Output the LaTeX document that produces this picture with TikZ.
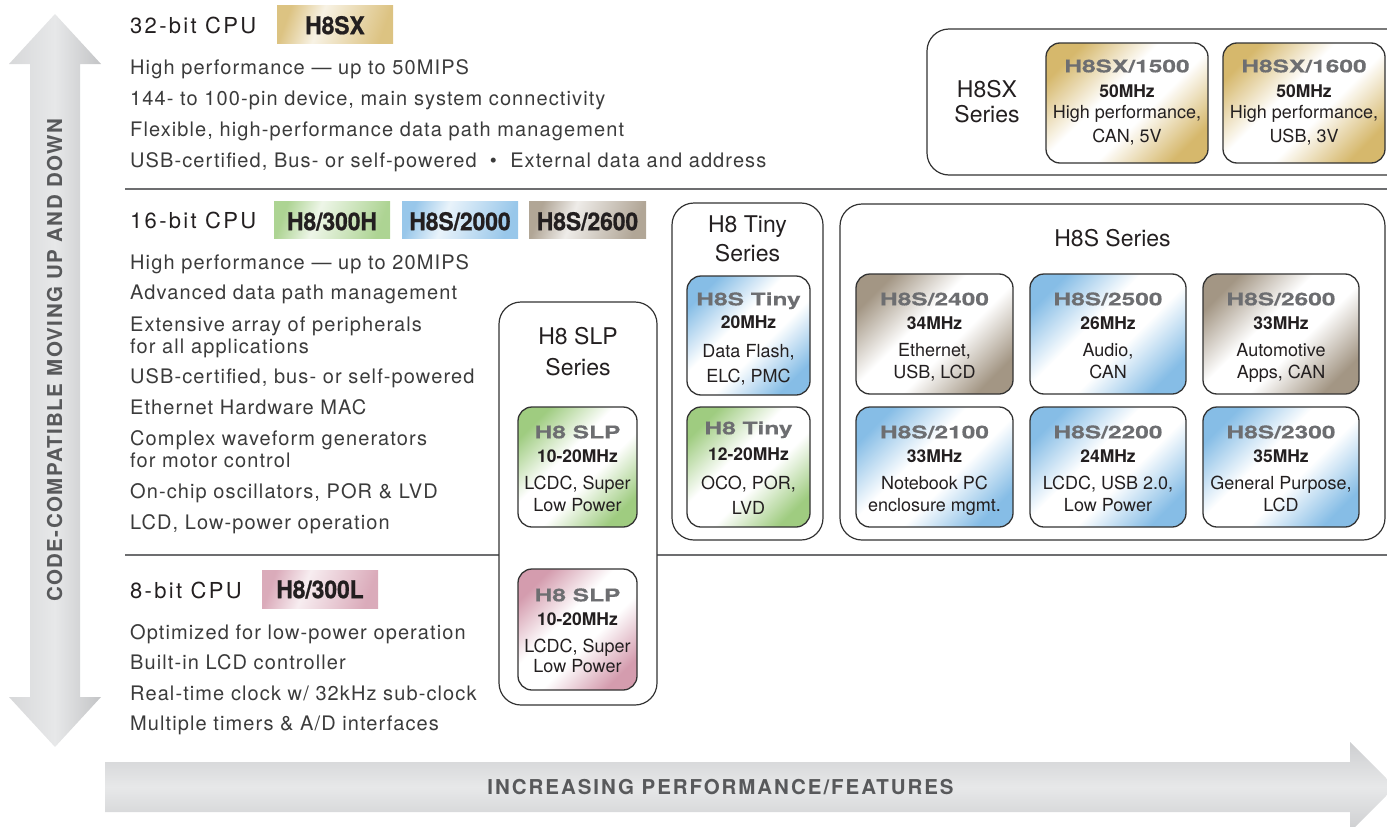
\documentclass[tikz,border=0pt]{standalone}
\usepackage{fontspec}
\setmainfont{TeX Gyre Heros}
\newfontfamily\bodyfont[LetterSpace=5.5]{TeX Gyre Heros}
\newfontfamily\headfont[LetterSpace=10.5]{TeX Gyre Heros}
\newfontfamily\vafont[LetterSpace=7]{TeX Gyre Heros}
\newfontfamily\hafont[LetterSpace=9.5]{TeX Gyre Heros}
\newfontfamily\badgefont[FakeStretch=0.93,FakeBold=0.8]{TeX Gyre Heros}
\newfontfamily\widefont[FakeStretch=1.4,FakeBold=0.4]{TeX Gyre Heros}
\usetikzlibrary{fit,shadings}
\definecolor{gold}{HTML}{D6B86C}
\definecolor{cblue}{HTML}{86BDE6}
\definecolor{cgreen}{HTML}{9FCC80}
\definecolor{ctaupe}{HTML}{A39684}
\definecolor{cpink}{HTML}{D49CAE}
\definecolor{txt}{HTML}{3B3B3B}
\definecolor{head}{HTML}{231F20}
\definecolor{sepgray}{HTML}{6D6E70}
\definecolor{outl}{HTML}{333333}
\definecolor{agray}{HTML}{58595B}
\definecolor{titlegray}{HTML}{6D6E71}
\definecolor{arrowedge}{HTML}{CDCED0}
\definecolor{arrowmid}{HTML}{E7E8E9}
\colorlet{chipc}{white}
\colorlet{badgec}{white}
\colorlet{badgel}{white}
\pgfdeclareverticalshading[chipc]{chipshade}{100bp}{color(0bp)=(chipc); color(24bp)=(chipc); color(43bp)=(white); color(57bp)=(white); color(76bp)=(chipc); color(100bp)=(chipc)}
\pgfdeclareverticalshading[badgec,badgel]{badgeshade}{100bp}{color(0bp)=(badgec); color(25bp)=(badgec); color(58bp)=(badgel); color(75bp)=(badgec); color(100bp)=(badgec)}
\tikzset{
  bodytext/.style={anchor=base west, inner sep=0, font=\fontsize{20}{22}\bodyfont, text=txt},
  cpuhead/.style={anchor=base west, inner sep=0, font=\fontsize{22}{24}\headfont, text=head},
  badgebox/.style={inner sep=0, draw=none, /utils/exec={\colorlet{badgec}{#1!85!white}\colorlet{badgel}{#1!18!white}}, shade, shading=badgeshade, shading angle=70},
  badgetext/.style={anchor=base, inner sep=0, font=\fontsize{24.5}{26}\badgefont\bfseries, text=head},
  serieslabel/.style={anchor=base, inner sep=0, font=\fontsize{23}{25}\selectfont, text=head},
  seriesbox/.style={draw=outl, line width=1.2pt, rounded corners=22pt, inner sep=0, fill=white},
  chipframe/.style={draw=outl, line width=1.3pt, rounded corners=14pt, inner sep=0, /utils/exec={\colorlet{chipc}{#1}}, shade, shading=chipshade, shading angle=45},
  chiptitle/.style={anchor=base, inner sep=0, font=\fontsize{17.5}{19}\widefont\bfseries, text=titlegray},
  chipmhz/.style={anchor=base, inner sep=0, font=\fontsize{17.5}{19}\selectfont\bfseries, text=head},
  chipdesc/.style={anchor=base, inner sep=0, font=\fontsize{18}{20}\selectfont, text=head},
  sepline/.style={draw=sepgray, line width=2pt},
}
% chip frame: name, x1, y1, x2, y2, colour
\newcommand\chipbox[6]{\node[chipframe=#6, fit={(#2,#3) (#4,#5)}] (#1) {};}
% chip text: name, dy1, title, dy2, mhz, dy3, line1, dy4, line2
\newcommand\chiptext[9]{%
  \node[chiptitle] (#1-t) at ([yshift=-#2pt]#1.north) {#3};
  \node[chipmhz] (#1-m) at ([yshift=-#4pt]#1.north) {#5};
  \node[chipdesc] (#1-a) at ([yshift=-#6pt]#1.north) {#7};
  \node[chipdesc] (#1-b) at ([yshift=-#8pt]#1.north) {#9};}
\begin{document}
\begin{tikzpicture}[x=1pt,y=-1pt]
\useasboundingbox (0,0) rectangle (1387,827);
\clip (0,0) rectangle (1387,827);

% big arrows
\shade[left color=arrowedge!80!white, right color=arrowedge!95!black, middle color=arrowmid]
  (55,14) -- (101,64) -- (80,64) -- (80,697) -- (101,697) -- (55,747) -- (9,697) -- (30,697) -- (30,64) -- (9,64) -- cycle;
\node[rotate=90, anchor=base, inner sep=0, font=\fontsize{20.5}{22}\vafont\bfseries, text=agray] (vtext) at (62,360.5) {CODE-COMPATIBLE MOVING UP AND DOWN};
\shade[top color=arrowedge, bottom color=arrowedge, middle color=arrowmid]
  (105,762) -- (1350,762) -- (1350,742) -- (1395,787) -- (1350,832) -- (1350,812) -- (105,812) -- cycle;
\node[anchor=base, inner sep=0, font=\fontsize{20.5}{22}\hafont\bfseries, text=agray] (htext) at (720.5,794) {INCREASING PERFORMANCE/FEATURES};

% separators
\coordinate (s1a) at (125,189); \coordinate (s1b) at (1387,189);
\coordinate (s2a) at (125,555); \coordinate (s2b) at (1387,555);
\draw[sepline] (s1a) -- (s1b);
\draw[sepline] (s2a) -- (s2b);

% 32-bit
\node[cpuhead] (h32) at (130,34) {32-bit CPU};
\node[badgebox=gold, fit={(277,5) (393,43)}] (bsx) {};
\node[badgetext] (bsxt) at ([yshift=9pt]bsx.south) {H8SX};
\node[bodytext] (t32a) at (130,74) {High performance — up to 50MIPS};
\node[bodytext] (t32b) at (130,105) {144- to 100-pin device, main system connectivity};
\node[bodytext] (t32c) at (130,136) {Flexible, high-performance data path management};
\node[bodytext] (t32d) at (130,167) {USB-certified, Bus- or self-powered \ • \ External data and address};

% 16-bit
\node[cpuhead] (h16) at (130,228) {16-bit CPU};
\node[badgebox=cgreen, fit={(274,201) (390,238)}] (b300h) {};
\node[badgetext] (b300ht) at ([yshift=8pt]b300h.south) {H8/300H};
\node[badgebox=cblue, fit={(402,201) (518,238)}] (b2000) {};
\node[badgetext] (b2000t) at ([yshift=8pt]b2000.south) {H8S/2000};
\node[badgebox=ctaupe, fit={(529,201) (646,238)}] (b2600) {};
\node[badgetext] (b2600t) at ([yshift=8pt]b2600.south) {H8S/2600};
\node[bodytext] (t16a) at (130,269) {High performance — up to 20MIPS};
\node[bodytext] (t16b) at (130,299) {Advanced data path management};
\node[bodytext] (t16c) at (130,331) {Extensive array of peripherals};
\node[bodytext] (t16d) at (130,353) {for all applications};
\node[bodytext] (t16e) at (130,383) {USB-certified, bus- or self-powered};
\node[bodytext] (t16f) at (130,414) {Ethernet Hardware MAC};
\node[bodytext] (t16g) at (130,445) {Complex waveform generators};
\node[bodytext] (t16h) at (130,467) {for motor control};
\node[bodytext] (t16i) at (130,498) {On-chip oscillators, POR \& LVD};
\node[bodytext] (t16j) at (130,529) {LCD, Low-power operation};

% 8-bit
\node[cpuhead] (h8) at (130,598) {8-bit CPU};
\node[badgebox=cpink, fit={(262,570) (378,608)}] (b300l) {};
\node[badgetext] (b300lt) at ([yshift=10pt]b300l.south) {H8/300L};
\node[bodytext] (t8a) at (130,639) {Optimized for low-power operation};
\node[bodytext] (t8b) at (130,669) {Built-in LCD controller};
\node[bodytext] (t8c) at (130,700) {Real-time clock w/ 32kHz sub-clock};
\node[bodytext] (t8d) at (130,730) {Multiple timers \& A/D interfaces};

% H8SX series
\node[seriesbox, fit={(927,29) (1410,175)}] (sxser) {};
\node[serieslabel] (sxl1) at (987,97) {H8SX};
\node[serieslabel] (sxl2) at (987,122) {Series};
\chipbox{c1500}{1046}{43}{1208}{163}{gold}
\chiptext{c1500}{30}{H8SX/1500}{55}{50MHz}{76}{High performance,}{100}{CAN, 5V}
\chipbox{c1600}{1223}{43}{1385}{163}{gold}
\chiptext{c1600}{30}{H8SX/1600}{55}{50MHz}{76}{High performance,}{100}{USB, 3V}

% H8 SLP series
\node[seriesbox, fit={(499,302) (657,705)}] (slpser) {};
\node[serieslabel] (slpl1) at ([yshift=-43pt]slpser.north) {H8 SLP};
\node[serieslabel] (slpl2) at ([yshift=-74pt]slpser.north) {Series};
\chipbox{slpg}{518}{407}{637}{527}{cgreen}
\chiptext{slpg}{32}{H8 SLP}{56}{10-20MHz}{83}{LCDC, Super}{105}{Low Power}
\chipbox{slpp}{518}{569}{637}{690}{cpink}
\chiptext{slpp}{33}{H8 SLP}{57}{10-20MHz}{84}{LCDC, Super}{104}{Low Power}

% H8 Tiny series
\node[seriesbox, fit={(672,203) (823,540)}] (tinyser) {};
\node[serieslabel] (tinyl1) at ([yshift=-30pt]tinyser.north) {H8 Tiny};
\node[serieslabel] (tinyl2) at ([yshift=-59pt]tinyser.north) {Series};
\chipbox{tinyb}{687}{276}{810}{395}{cblue}
\chiptext{tinyb}{30}{H8S Tiny}{53}{20MHz}{82}{Data Flash,}{107}{ELC, PMC}
\chipbox{tinyg}{687}{407}{810}{527}{cgreen}
\chiptext{tinyg}{28}{H8 Tiny}{54}{12-20MHz}{83}{OCO, POR,}{108}{LVD}

% H8S series
\node[seriesbox, fit={(840,204) (1385,540)}] (h8sser) {};
\node[serieslabel] (h8sl) at ([yshift=-43pt]h8sser.north) {H8S Series};
\chipbox{c2400}{856}{274}{1013}{394}{ctaupe}
\chiptext{c2400}{32}{H8S/2400}{56}{34MHz}{83}{Ethernet,}{105}{USB, LCD}
\chipbox{c2500}{1030}{274}{1186}{394}{cblue}
\chiptext{c2500}{32}{H8S/2500}{56}{26MHz}{83}{Audio,}{105}{CAN}
\chipbox{c2600}{1203}{274}{1359}{394}{ctaupe}
\chiptext{c2600}{32}{H8S/2600}{56}{33MHz}{83}{Automotive}{105}{Apps, CAN}
\chipbox{c2100}{856}{407}{1013}{527}{cblue}
\chiptext{c2100}{32}{H8S/2100}{56}{33MHz}{83}{Notebook PC}{105}{enclosure mgmt.}
\chipbox{c2200}{1030}{407}{1186}{527}{cblue}
\chiptext{c2200}{32}{H8S/2200}{56}{24MHz}{83}{LCDC, USB 2.0,}{105}{Low Power}
\chipbox{c2300}{1203}{407}{1359}{527}{cblue}
\chiptext{c2300}{32}{H8S/2300}{56}{35MHz}{83}{General Purpose,}{105}{LCD}
\end{tikzpicture}
\end{document}
